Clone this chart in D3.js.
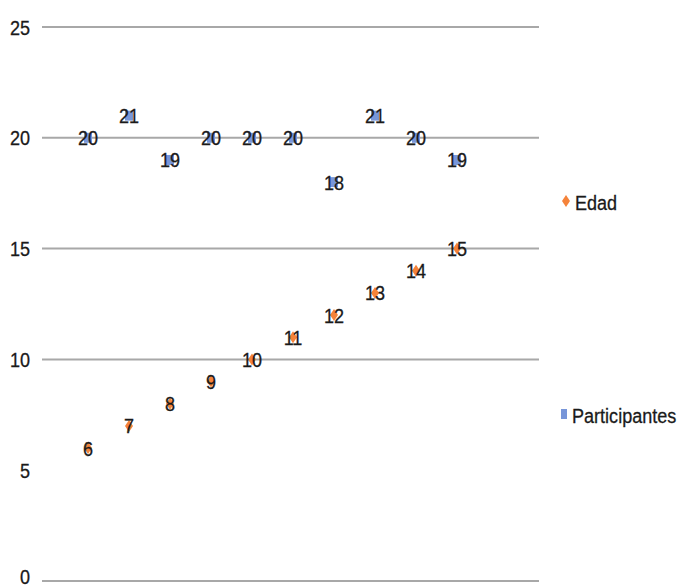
<!DOCTYPE html>
<html lang="en">
<head>
<meta charset="UTF-8">
<title>Edad y Participantes</title>
<script src="https://d3js.org/d3.v7.min.js"></script>
<style>
    html, body { margin: 0; padding: 0; background: #fff; }
    svg text { font-family: "Liberation Sans", Arial, sans-serif; fill: #1a1a1a; stroke: #1a1a1a; stroke-width: 0.3; }
</style>
</head>
<body>
<svg id="chart" width="681" height="588"></svg>
<script>
    // data
    const categories = [1, 2, 3, 4, 5, 6, 7, 8, 9, 10];
    const edad = [6, 7, 8, 9, 10, 11, 12, 13, 14, 15];
    const participantes = [20, 21, 19, 20, 20, 20, 18, 21, 20, 19];
    const yTicks = [0, 5, 10, 15, 20, 25];
    const gridValues = [0, 10, 15, 20, 25]; // no line shows at 5 in the original
    const seriesNames = ["Edad", "Participantes"];

    const orange = "#f5833a";
    const blue = "#7896d9";
    const squash = 0.86; // the original text looks horizontally squeezed
    const fontSize = 21;

    const svg = d3.select("#chart");

    const x = d3.scaleLinear().domain([0, 12]).range([47, 539]);
    const y = d3.scaleLinear().domain([0, 25]).range([581, 27]);

    // gridlines
    svg.append("g").selectAll("line")
        .data(gridValues)
        .join("line")
        .attr("x1", 42).attr("x2", 539)
        .attr("y1", d => y(d)).attr("y2", d => y(d))
        .attr("stroke", "#a8a8a8")
        .attr("stroke-width", 2);

    // y tick labels (the bottom one is nudged up so it stays on the page)
    svg.append("g").selectAll("text")
        .data(yTicks)
        .join("text")
        .attr("transform", d => `translate(30,${Math.min(y(d), 576)}) scale(${squash},1)`)
        .attr("text-anchor", "end")
        .attr("dominant-baseline", "central")
        .attr("font-size", fontSize)
        .text(d => d);

    const diamond = "M0,-6L4,0L0,6L-4,0Z";

    // Edad markers
    svg.append("g").selectAll("path")
        .data(edad)
        .join("path")
        .attr("d", diamond)
        .attr("transform", (d, i) => `translate(${x(categories[i])},${y(d)})`)
        .attr("fill", orange);

    // Participantes markers
    svg.append("g").selectAll("rect")
        .data(participantes)
        .join("rect")
        .attr("x", (d, i) => x(categories[i]) - 4)
        .attr("y", d => y(d) - 5)
        .attr("width", 8)
        .attr("height", 10)
        .attr("fill", blue);

    // data labels, drawn centred over the markers
    const labels = svg.append("g");
    [edad, participantes].forEach(series => {
        labels.append("g").selectAll("text")
            .data(series)
            .join("text")
            .attr("transform", (d, i) => `translate(${x(categories[i])},${y(d)}) scale(${squash},1)`)
            .attr("text-anchor", "middle")
            .attr("dominant-baseline", "central")
            .attr("font-size", fontSize)
            .text(d => d);
    });

    // legend
    const legend = svg.append("g");
    legend.append("path")
        .attr("d", diamond)
        .attr("transform", "translate(566,201)")
        .attr("fill", orange);
    legend.append("rect")
        .attr("x", 561).attr("y", 409)
        .attr("width", 6).attr("height", 10)
        .attr("fill", blue);
    legend.selectAll("text")
        .data(seriesNames)
        .join("text")
        .attr("transform", (d, i) => `translate(${i === 0 ? 575 : 572},${i === 0 ? 202 : 415}) scale(${squash},1)`)
        .attr("dominant-baseline", "central")
        .attr("font-size", fontSize)
        .text(d => d);
</script>
</body>
</html>
